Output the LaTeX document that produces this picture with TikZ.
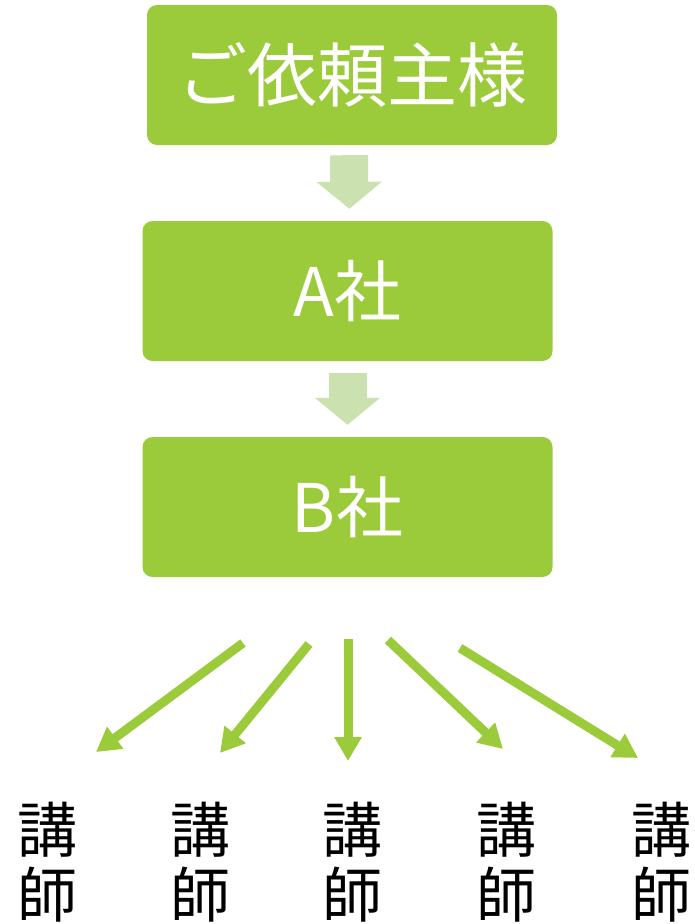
\documentclass[tikz,border=0pt]{standalone}
\usepackage{fontspec}
\newfontfamily\jpfont{Noto Sans CJK JP}
\usetikzlibrary{arrows.meta}
\definecolor{leaf}{HTML}{9BCB3B}
\definecolor{paleleaf}{HTML}{CBE2B0}

\begin{document}
\begin{tikzpicture}[x=1pt,y=-1pt]
	\tikzstyle{box}=[fill=leaf,rounded corners=10pt,minimum width=410pt,minimum height=140pt,inner sep=0pt,text=white,font=\jpfont\fontsize{67}{70}\selectfont];
	\tikzstyle{flow}=[draw=paleleaf,line width=38pt,-{Triangle[width=64pt,length=27pt]}];
	\tikzstyle{spread}=[draw=leaf,line width=9pt,-{Triangle[width=26pt,length=24pt]}];
	\tikzstyle{lecturer}=[align=center,inner sep=0pt,font=\jpfont\fontsize{60}{65}\selectfont];

    \useasboundingbox (0,0) rectangle (694,924);

    \node at (352,75)    (client) [box,font=\jpfont\fontsize{70}{74}\selectfont] {ご依頼主様};
    \node at (347.5,291) (firmA)  [box] {A社};
    \node at (347.5,507) (firmB)  [box] {B社};

    \node at (47,862)  (k1) [lecturer] {講\\師};
    \node at (200,862) (k2) [lecturer] {講\\師};
    \node at (352,862) (k3) [lecturer] {講\\師};
    \node at (506,862) (k4) [lecturer] {講\\師};
    \node at (661,862) (k5) [lecturer] {講\\師};

    \coordinate (p1) at (243,643);  \coordinate (q1) at (96,752);
    \coordinate (p2) at (309,644);  \coordinate (q2) at (220,753);
    \coordinate (p3) at (348,639);  \coordinate (q3) at (348,761);
    \coordinate (p4) at (388,640);  \coordinate (q4) at (503,749);
    \coordinate (p5) at (460,648);  \coordinate (q5) at (638,758);

    \draw[flow,shorten <=10pt,shorten >=12pt] ([xshift=-3pt]client.south) -- ([xshift=2pt]firmA.north);
    \draw[flow,shorten <=12pt,shorten >=12pt] (firmA.south) -- (firmB.north);

    \draw[spread] (p1) -- (q1);
    \draw[spread] (p2) -- (q2);
    \draw[spread] (p3) -- (q3);
    \draw[spread] (p4) -- (q4);
    \draw[spread] (p5) -- (q5);
\end{tikzpicture}
\end{document}
